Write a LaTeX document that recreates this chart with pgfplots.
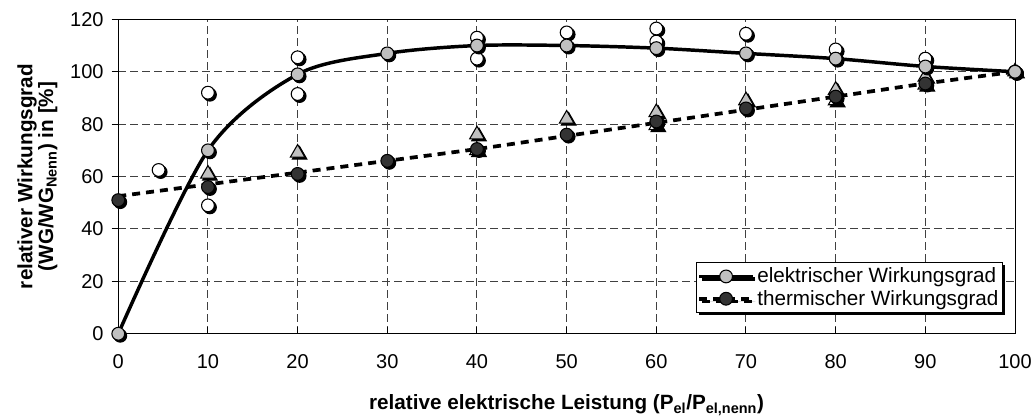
\documentclass[border=0pt]{standalone}
\usepackage{pgfplots}
\usepackage{pgfplotstable}
\pgfplotsset{compat=1.18}
\usepackage{fontspec}
\setmainfont{Liberation Sans}
\usetikzlibrary{shadows}
\definecolor{lgrey}{RGB}{192,192,192}
\definecolor{dgrey}{RGB}{51,51,51}

\pgfplotstableread{
x y
0 0
10 70
20 99
30 107
40 110
50 110
60 109
70 107
80 105
90 102
100 100
}\elec

\pgfplotstableread{
x y
0 52.5
10 57
20 61.5
30 66
40 70.5
50 75.5
60 80.5
70 85.5
80 90.5
90 95.5
100 100
}\thermline

\pgfplotstableread{
x y
4.5 62.5
10 92
10 49
20 105.5
20 91.5
40 113
40 105
50 115
60 116.5
60 111.5
70 114.5
80 108.5
90 105
100 100
}\whitec

\pgfplotstableread{
x y
40 70
60 79.5
80 89
90 95
}\whitet

\pgfplotstableread{
x y
10 61
20 69
40 76
50 82
60 84.5
70 89
80 93
90 98
100 100
}\greyt

\pgfplotstableread{
x y
0 51
10 56
20 61
30 66
40 70.5
50 76
60 81
70 86
80 90.5
90 95.5
100 100
}\darkc

\pgfplotsset{
  shad/.style={only marks, forget plot, mark options={fill=black, draw=black, line width=0.8pt, xshift=1.5pt, yshift=-1.5pt}},
  mk/.style={only marks, forget plot, mark options={fill=#1, draw=black, line width=0.8pt}},
}

\begin{document}
\begin{tikzpicture}
\useasboundingbox (-88.7pt,-61.7pt) rectangle (688.25pt,250.3pt);
\begin{axis}[
  at={(0,0)}, anchor=south west,
  scale only axis, width=672.5pt, height=235.8pt,
  xmin=0, xmax=100, ymin=0, ymax=120,
  xtick={0,10,...,100}, ytick={0,20,...,120},
  grid=major,
  grid style={black!75, line width=0.75pt, dash pattern=on 6pt off 3pt},
  axis line style={line width=0.75pt},
  xtick pos=left, ytick pos=left,
  major tick length=5pt,
  every tick/.style={black, line width=0.75pt},
  every y tick/.append style={xshift=-5pt},
  tick label style={font=\fontsize{15}{17}\selectfont},
  /pgf/number format/assume math mode=true,
  xticklabel style={yshift=-12pt},
  yticklabel style={xshift=-7.5pt},
  clip=false,
  xlabel={relative elektrische Leistung (P\textsubscript{el}/P\textsubscript{el,nenn})},
  xlabel style={at={(axis description cs:0.5,-0.226)}, anchor=center, font=\fontsize{15.5}{17}\selectfont\bfseries},
  ylabel={relativer Wirkungsgrad\\(WG/WG\textsubscript{Nenn}) in [\%]},
  ylabel style={at={(axis description cs:-0.0901,0.5)}, anchor=center, align=center, font=\fontsize{15.5}{14.5}\selectfont\bfseries},
  legend image code/.code={\draw[mark repeat=2,mark phase=2,#1] plot coordinates {(0pt,0pt) (20pt,0pt) (40pt,0pt)};},
  legend cell align=left,
  legend style={at={(axis description cs:0.9866,0.0658)}, anchor=south east, draw=black, line width=0.75pt, fill=white,
    font=\fontsize{15.5}{18}\selectfont, inner xsep=1pt, inner ysep=2pt, row sep=0pt,
    drop shadow={shadow xshift=2pt, shadow yshift=-2pt, fill=black, opacity=1}},
]
\addplot[black, line width=2.6pt, smooth, forget plot] table {\elec};
\addplot[black, line width=2.8pt, dash pattern=on 6pt off 4.5pt, smooth, forget plot] table {\thermline};

\addplot[shad, mark=*, mark size=4.8pt] table {\whitec};
\addplot[mk=white, mark=*, mark size=4.8pt] table {\whitec};

\addplot[shad, mark=triangle*, mark size=6.3pt] table {\whitet};
\addplot[mk=white, mark=triangle*, mark size=6.3pt] table {\whitet};
\addplot[shad, mark=triangle*, mark size=6.3pt] table {\greyt};
\addplot[mk=lgrey, mark=triangle*, mark size=6.3pt] table {\greyt};

\addplot[shad, mark=*, mark size=4.8pt] table {\darkc};
\addplot[mk=dgrey, mark=*, mark size=4.8pt] table {\darkc};

\addplot[shad, mark=*, mark size=4.8pt] table {\elec};
\addplot[mk=lgrey, mark=*, mark size=4.8pt] table {\elec};

\addlegendimage{black, line width=2.6pt, mark=*, mark size=4.8pt, mark options={solid, fill=lgrey, draw=black, line width=0.8pt}}
\addlegendentry{elektrischer Wirkungsgrad}
\addlegendimage{black, line width=2.8pt, dash pattern=on 6pt off 4.5pt, mark=*, mark size=4.8pt, mark options={solid, fill=dgrey, draw=black, line width=0.8pt}}
\addlegendentry{thermischer Wirkungsgrad}
\end{axis}
\end{tikzpicture}
\end{document}
